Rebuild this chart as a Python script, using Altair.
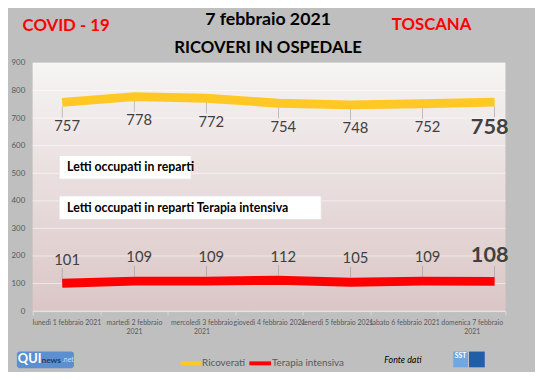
import altair as alt
import pandas as pd

days = ["lunedì 1 febbraio 2021", "martedì 2 febbraio 2021", "mercoledì 3 febbraio 2021",
        "giovedì 4 febbraio 2021", "venerdì 5 febbraio 2021", "sabato 6 febbraio 2021",
        "domenica 7 febbraio 2021"]
wrapped_days = ["martedì 2 febbraio 2021", "mercoledì 3 febbraio 2021", "domenica 7 febbraio 2021"]
ricoverati = [757, 778, 772, 754, 748, 752, 758]
terapia = [101, 109, 109, 112, 105, 109, 108]
y_ticks = [0, 100, 200, 300, 400, 500, 600, 700, 800, 900]

FONT = "Lato"
YELLOW = "#ffc825"
RED = "#ff0000"

n = len(days)
df = pd.DataFrame({
    "day": days,
    "idx": list(range(n)),
    "ricoverati": ricoverati,
    "terapia": terapia,
    "last": [i == n - 1 for i in range(n)],
})

xq = alt.X("idx:Q", scale=alt.Scale(domain=[-0.41, 6.15], nice=False, zero=False), axis=None)
yq_scale = alt.Scale(domain=[0, 900], nice=False)
y_axis = alt.Axis(values=y_ticks, labelFontSize=8, labelColor="#595959", labelFont=FONT,
                  domain=False, ticks=False, labelPadding=8, grid=False, title=None)


def Y(field):
    return alt.Y(field, scale=yq_scale, axis=y_axis, title=None)


base = alt.Chart(df)

bg = alt.Chart(pd.DataFrame({"a": [0]})).mark_rect(
    color=alt.Gradient(gradient="linear",
                       stops=[alt.GradientStop(color="#f6f4f4", offset=0),
                              alt.GradientStop(color="#dbc6c6", offset=1)],
                       x1=0, x2=0, y1=0, y2=1)).encode(
    x=alt.value(0), x2=alt.value(480), y=alt.value(0), y2=alt.value(252))

grid = alt.Chart(pd.DataFrame({"v": y_ticks})).mark_rule(
    color="#ffffff", opacity=0.55, strokeWidth=1).encode(y=Y("v:Q"))

# invisible layer carrying the category axis
wrap_list = "[" + ",".join("'" + d + "'" for d in wrapped_days) + "]"
label_expr = (f"indexof({wrap_list}, datum.label) >= 0 ? "
              "[substring(datum.label, 0, lastindexof(datum.label, ' ')), "
              "substring(datum.label, lastindexof(datum.label, ' ') + 1)] : datum.label")
axis_layer = base.mark_point(opacity=0).encode(
    x=alt.X("day:N", sort=days, title=None,
            scale=alt.Scale(paddingInner=0, paddingOuter=0),
            axis=alt.Axis(labelAngle=0, labelFontSize=7, labelColor="#595959", labelFont=FONT,
                          labelExpr=label_expr, labelLineHeight=9, labelPadding=4,
                          tickBand="extent", tickColor="#d9d9d9", tickSize=4,
                          domainColor="#d9d9d9", labelLimit=200)),
    y=Y("ricoverati:Q"),
)

line_r = base.mark_line(color=YELLOW, strokeWidth=9, strokeCap="butt").encode(
    x=xq, y=Y("ricoverati:Q"))
line_t = base.mark_line(color=RED, strokeWidth=9, strokeCap="butt").encode(
    x=xq, y=Y("terapia:Q"))

lead_r = base.mark_tick(orient="vertical", size=11, thickness=0.7, color="#8c8c8c", yOffset=10).encode(
    x=xq, y=Y("ricoverati:Q"))
lead_t = base.mark_tick(orient="vertical", size=11, thickness=0.7, color="#8c8c8c", yOffset=-10).encode(
    x=xq, y=Y("terapia:Q"))

lab_r = base.transform_filter("!datum.last").mark_text(
    font=FONT, fontSize=15, color="#404040", dy=24, dx=5).encode(
    x=xq, y=Y("ricoverati:Q"), text="ricoverati:Q")
lab_r_last = base.transform_filter("datum.last").mark_text(
    font=FONT, fontSize=22, fontWeight="bold", color="#404040", dy=25, dx=-5).encode(
    x=xq, y=Y("ricoverati:Q"), text="ricoverati:Q")
lab_t = base.transform_filter("!datum.last").mark_text(
    font=FONT, fontSize=15, color="#404040", dy=-24, dx=5).encode(
    x=xq, y=Y("terapia:Q"), text="terapia:Q")
lab_t_last = base.transform_filter("datum.last").mark_text(
    font=FONT, fontSize=22, fontWeight="bold", color="#404040", dy=-27, dx=-5).encode(
    x=xq, y=Y("terapia:Q"), text="terapia:Q")


def txt(s, x, y, size, color="black", weight="bold", align="center", style="normal", font=FONT):
    return alt.Chart(pd.DataFrame({"t": [s]})).mark_text(
        font=font, fontSize=size, fontWeight=weight, color=color, align=align,
        baseline="middle", fontStyle=style).encode(
        text="t:N", x=alt.value(x), y=alt.value(y))


def box(x1, x2, y1, y2, fill, stroke=None, r=0):
    kw = dict(color=fill, cornerRadius=r)
    if stroke:
        kw.update(stroke=stroke, strokeWidth=0.8)
    return alt.Chart(pd.DataFrame({"a": [0]})).mark_rect(**kw).encode(
        x=alt.value(x1), x2=alt.value(x2), y=alt.value(y1), y2=alt.value(y2))


def swatch(x1, x2, y, color):
    return alt.Chart(pd.DataFrame({"a": [0]})).mark_rule(color=color, strokeWidth=4).encode(
        x=alt.value(x1), x2=alt.value(x2), y=alt.value(y))


annots = [
    txt("COVID - 19", 34, -37, 17, color=RED),
    txt("7 febbraio 2021", 239, -43, 18),
    txt("TOSCANA", 405, -38, 17, color=RED),
    txt("RICOVERI IN OSPEDALE", 239, -15, 17),
    box(27, 161, 94, 118, "white", stroke="#e0e0e0"),
    txt("Letti occupati in reparti", 35, 106, 12.5, align="left"),
    box(27, 293, 135, 159, "white", stroke="#e0e0e0"),
    txt("Letti occupati in reparti Terapia intensiva", 35, 147, 12.5, align="left"),
    swatch(150, 171, 305, YELLOW),
    txt("Ricoverati", 172, 305, 10, color="#595959", weight="normal", align="left"),
    swatch(220, 242, 305, RED),
    txt("Terapia intensiva", 243, 305, 10, color="#595959", weight="normal", align="left"),
    txt("Fonte dati", 357, 302, 9, weight="normal", align="left", style="italic"),
    # QUInews logo
    box(-16, 42, 293, 310, "#5b8fd0", r=3),
    txt("QUI", -15, 301, 13, color="white", align="left"),
    txt("news", 9, 302, 8.5, color="#1f3a66", align="left"),
    txt(".net", 30, 302, 7, color="#c8dcf5", weight="normal", align="left"),
    # SST logo
    box(427, 442, 293, 309, "#6fa8e0"),
    box(443, 459, 293, 309, "#1f5fa8"),
    txt("SST", 434.5, 298, 7, color="white"),
]

chart = alt.layer(
    bg, grid, axis_layer, line_r, line_t, lead_r, lead_t, lab_r, lab_r_last, lab_t, lab_t_last, *annots
).resolve_scale(x="independent").properties(
    width=480, height=252,
    padding={"left": 25, "top": 53, "right": 30, "bottom": 59},
    autosize="none",
    background="#bfbfbf",
).configure_view(stroke=None)

chart.save("out.html", embed_options={"renderer": "svg", "actions": False})
